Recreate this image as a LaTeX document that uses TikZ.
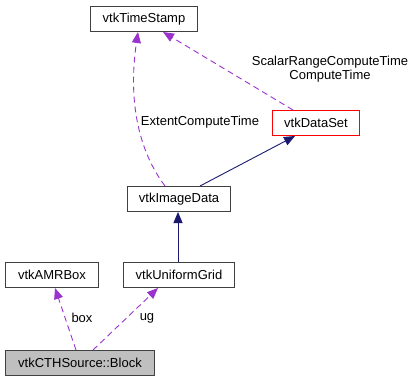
\documentclass[tikz,border=0pt]{standalone}
\usepackage{fontspec}
\setmainfont{Liberation Sans}
\usetikzlibrary{arrows.meta}
\definecolor{edgepurple}{HTML}{9A32CD}
\definecolor{edgenavy}{HTML}{191970}
\definecolor{blockgrey}{HTML}{BFBFBF}
\begin{document}
\begin{tikzpicture}[x=1pt,y=-1pt,
  cls/.style={draw=black!75,line width=1pt,minimum height=25pt,inner xsep=5pt,font=\fontsize{13}{15}\selectfont,anchor=north west},
  uses/.style={draw=edgepurple,dash pattern=on 6pt off 4pt,line width=0.9pt,-{Triangle[length=11pt,width=9pt,fill=edgepurple]}},
  inherits/.style={draw=edgenavy,line width=0.9pt,-{Triangle[length=11pt,width=9pt,fill=edgenavy]}},
  lbl/.style={font=\fontsize{13}{14}\selectfont,align=center}]
\useasboundingbox (0,0) rectangle (416,383);
% classes
\node[cls,minimum width=107pt] (ts) at (90,6) {vtkTimeStamp};
\node[cls,minimum width=87pt,draw=red] (ds) at (272,110) {vtkDataSet};
\node[cls,minimum width=103pt] (img) at (127,186) {vtkImageData};
\node[cls,minimum width=93pt] (amr) at (5,262) {vtkAMRBox};
\node[cls,minimum width=111pt] (ug) at (123,262) {vtkUniformGrid};
\node[cls,minimum width=149pt,fill=blockgrey] (blk) at (5,350) {vtkCTHSource::Block};
% inheritance (solid)
\draw[inherits] ([xshift=73pt]img.north west) -- ([xshift=23pt]ds.south west);
\draw[inherits] ([xshift=55pt]ug.north west) -- ([xshift=51pt]img.south west);
% data members (dashed)
\draw[uses] ([xshift=38pt]img.north west)
  .. controls (138,150) and (128,100) .. ([xshift=48pt]ts.south west);
\draw[uses] ([xshift=21pt]ds.north west) -- ([xshift=73pt]ts.south west);
\draw[uses] ([xshift=71pt]blk.north west) -- ([xshift=50pt]amr.south west);
\draw[uses] ([xshift=88pt]blk.north west) -- ([xshift=35pt]ug.south west);
% member labels
\node[lbl] (l1) at (200,122) {ExtentComputeTime};
\node[lbl] (l2) at (330,69) {ScalarRangeComputeTime\\ComputeTime};
\node[lbl] (l3) at (82,318) {box};
\node[lbl] (l4) at (147,318) {ug};
\end{tikzpicture}
\end{document}
